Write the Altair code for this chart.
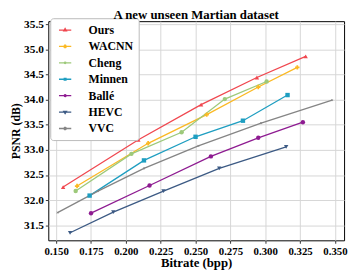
import altair as alt
import pandas as pd

models = ["Ours", "WACNN", "Cheng", "Minnen", "Ballé", "HEVC", "VVC"]
colors = ["#F0474F", "#FBB923", "#9DC97A", "#1E9EC1", "#8E1B91", "#3C5A84", "#858585"]

ours_bpp = [0.155, 0.209, 0.254, 0.294, 0.329]
ours_psnr = [32.26, 33.20, 33.90, 34.44, 34.86]
wacnn_bpp = [0.165, 0.216, 0.258, 0.295, 0.323]
wacnn_psnr = [32.28, 33.13, 33.70, 34.25, 34.64]
cheng_bpp = [0.164, 0.204, 0.240, 0.271, 0.301]
cheng_psnr = [32.18, 32.92, 33.35, 34.01, 34.36]
minnen_bpp = [0.174, 0.213, 0.250, 0.284, 0.316]
minnen_psnr = [32.09, 32.79, 33.26, 33.58, 34.09]
balle_bpp = [0.175, 0.217, 0.261, 0.295, 0.327]
balle_psnr = [31.74, 32.29, 32.87, 33.24, 33.55]
hevc_bpp = [0.160, 0.191, 0.227, 0.267, 0.315]
hevc_psnr = [31.35, 31.76, 32.18, 32.63, 33.06]
vvc_bpp = [0.151, 0.180, 0.213, 0.252, 0.297, 0.348]
vvc_psnr = [31.75, 32.18, 32.63, 33.08, 33.53, 33.99]

x_ticks = [0.150, 0.175, 0.200, 0.225, 0.250, 0.275, 0.300, 0.325, 0.350]
y_ticks = [31.5, 32.0, 32.5, 33.0, 33.5, 34.0, 34.5, 35.0, 35.5]

series = [
    ("Ours", ours_bpp, ours_psnr),
    ("WACNN", wacnn_bpp, wacnn_psnr),
    ("Cheng", cheng_bpp, cheng_psnr),
    ("Minnen", minnen_bpp, minnen_psnr),
    ("Ballé", balle_bpp, balle_psnr),
    ("HEVC", hevc_bpp, hevc_psnr),
    ("VVC", vvc_bpp, vvc_psnr),
]
rows = []
for name, bs, ps in series:
    for i, (b, p) in enumerate(zip(bs, ps)):
        rows.append({"model": name, "bpp": b, "psnr": p, "order": i})
df = pd.DataFrame(rows)

X_PATH = "M-0.5,-0.3L-0.3,-0.5L0,-0.2L0.3,-0.5L0.5,-0.3L0.2,0L0.5,0.3L0.3,0.5L0,0.2L-0.3,0.5L-0.5,0.3L-0.2,0Z"
point_shapes = ["triangle-up", "cross", "circle", "square", "circle", "triangle-down", X_PATH]

legend_shapes = [
    "M-0.5,0H1.5M0.5,-0.24L0.72,0.14L0.28,0.14Z",
    "M-0.5,0H1.5M0.44,-0.2H0.56V-0.06H0.7V0.06H0.56V0.2H0.44V0.06H0.3V-0.06H0.44Z",
    "M-0.5,0H1.5M0.63,0A0.13,0.13,0,1,1,0.37,0A0.13,0.13,0,1,1,0.63,0Z",
    "M-0.5,0H1.5M0.36,-0.14H0.64V0.14H0.36Z",
    "M-0.5,0H1.5M0.65,0A0.15,0.15,0,1,1,0.35,0A0.15,0.15,0,1,1,0.65,0Z",
    "M-0.5,0H1.5M0.28,-0.13L0.72,-0.13L0.5,0.23Z",
    "M-0.5,0H1.5M0.34,-0.1L0.4,-0.16L0.5,-0.06L0.6,-0.16L0.66,-0.1L0.56,0L0.66,0.1L0.6,0.16L0.5,0.06L0.4,0.16L0.34,0.1L0.44,0Z",
]

FONT = "Liberation Serif"

x_enc = alt.X(
    "bpp:Q",
    scale=alt.Scale(domain=[0.14436, 0.35656], nice=False, zero=False),
    axis=alt.Axis(values=x_ticks, format=".3f", title="Bitrate (bpp)",
                  labelFontSize=11, titleFontSize=13, labelPadding=2, titlePadding=1,
                  tickSize=3),
)
y_enc = alt.Y(
    "psnr:Q",
    scale=alt.Scale(domain=[31.2, 35.56], nice=False, zero=False),
    axis=alt.Axis(values=y_ticks, format=".1f", title="PSNR (dB)",
                  labelFontSize=11.5, titleFontSize=12, labelPadding=2, titlePadding=1,
                  tickSize=3),
)
color_scale = alt.Scale(domain=models, range=colors)

lines = alt.Chart(df).mark_line(strokeWidth=1.3).encode(
    x=x_enc, y=y_enc,
    color=alt.Color("model:N", scale=color_scale, legend=None),
    detail="model:N",
    order="order:Q",
)

points = alt.Chart(df).mark_point(filled=True, size=20, opacity=1).encode(
    x=x_enc, y=y_enc,
    color=alt.Color("model:N", scale=color_scale, legend=None),
    shape=alt.Shape("model:N", scale=alt.Scale(domain=models, range=point_shapes), legend=None),
)

legend_layer = alt.Chart(df).mark_point(filled=True, opacity=0, strokeWidth=1.3).encode(
    x=x_enc, y=y_enc,
    color=alt.Color("model:N", scale=alt.Scale(domain=models, range=colors),
                    legend=alt.Legend(title=None)),
    stroke=alt.Stroke("model:N", scale=alt.Scale(domain=models, range=colors),
                      legend=alt.Legend(title=None)),
    shape=alt.Shape("model:N", scale=alt.Scale(domain=models, range=legend_shapes),
                    legend=alt.Legend(title=None)),
)

chart = alt.layer(lines, points, legend_layer).resolve_scale(
    color="independent", shape="independent", stroke="independent"
).properties(
    width=301,
    height=223,
    title=alt.TitleParams("A new unseen Martian dataset", fontSize=13, font=FONT,
                          fontWeight="bold", offset=3, dy=7, color="black"),
    autosize=alt.AutoSizeParams(type="none"),
    padding={"left": 41, "top": 11, "right": 5, "bottom": 40},
).configure_view(
    stroke="black", strokeWidth=1
).configure_axis(
    labelFont=FONT, titleFont=FONT, labelFontWeight="bold", titleFontWeight="bold",
    labelColor="black", titleColor="black", gridColor="#d6d6d6", gridWidth=1,
    domain=False, tickColor="#333333", tickWidth=1,
).configure_legend(
    orient="none", legendX=2, legendY=-3, labelFont=FONT, labelFontWeight="bold",
    labelFontSize=12, labelColor="black", symbolSize=156, symbolStrokeWidth=1.3,
    padding=5, labelOffset=20, rowPadding=3.7, strokeColor="#bbbbbb",
    fillColor="white", cornerRadius=3, symbolOpacity=1,
)

chart.save("out.html", embed_options={"renderer": "svg", "actions": False})
